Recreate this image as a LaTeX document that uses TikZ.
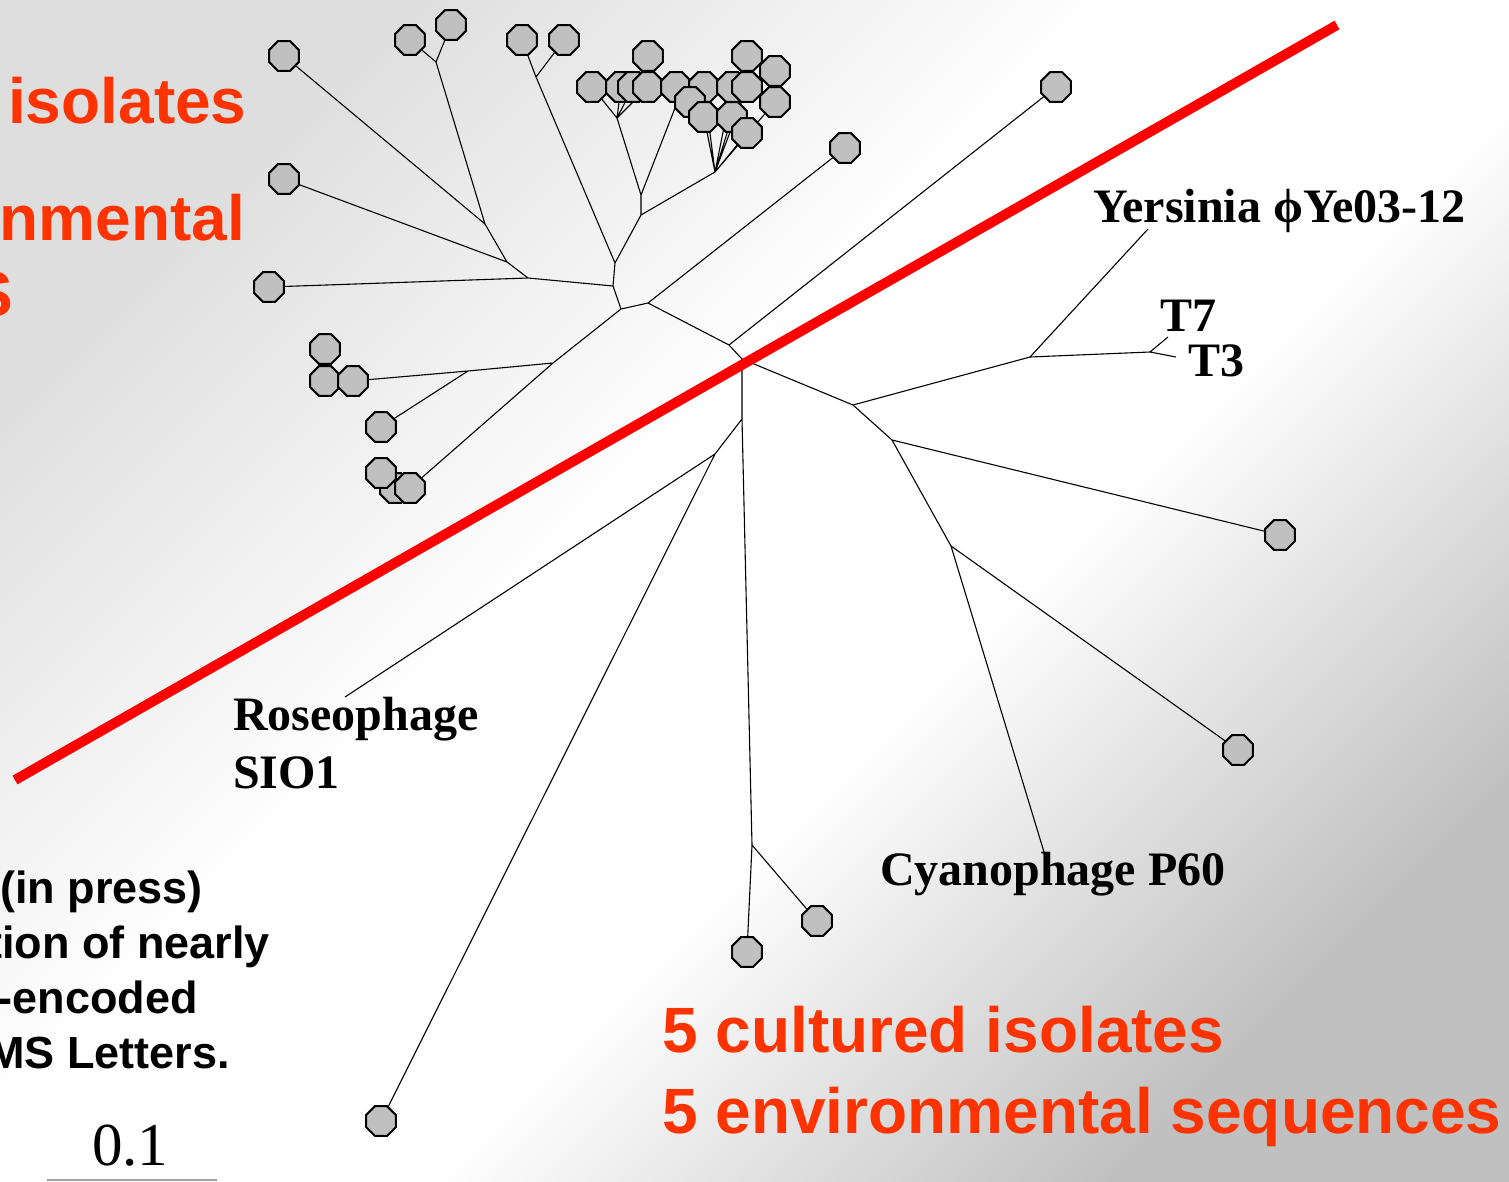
\documentclass[tikz,border=0pt]{standalone}
\usepackage{fontspec}
\setmainfont{Liberation Serif}
\setsansfont{Liberation Sans}
\usetikzlibrary{shapes.geometric}

\definecolor{leafgrey}{RGB}{192,192,192}
\definecolor{hlorange}{RGB}{255,51,0}
\definecolor{bgA}{RGB}{222,222,222}
\definecolor{bgB}{RGB}{192,192,192}
\definecolor{bargrey}{RGB}{160,160,160}

% diagonal slide background: grey corner, white middle, darker grey corner
\pgfdeclarehorizontalshading{bgdiag}{100bp}{color(0bp)=(bgA); color(25bp)=(bgA); color(44bp)=(white); color(57bp)=(white); color(75bp)=(bgB); color(100bp)=(bgB)}

\pgfdeclarelayer{bg}
\pgfdeclarelayer{leaves}
\pgfsetlayers{bg,main,leaves}

\begin{document}
\begin{tikzpicture}[x=1pt,y=-1pt,
  leafnode/.style={regular polygon, regular polygon sides=8, minimum size=32pt,
    inner sep=0pt, fill=leafgrey, draw=black, line width=2pt},
  branch/.style={line width=1.1pt, black},
  splitline/.style={red, line width=10pt},
  taxon/.style={font=\bfseries\fontsize{48}{48}\selectfont, anchor=base west, inner sep=0pt},
  hltext/.style={font=\sffamily\bfseries\fontsize{64}{64}\selectfont, text=hlorange, inner sep=0pt},
  notetext/.style={font=\sffamily\bfseries\fontsize{45}{45}\selectfont, anchor=base east, inner sep=0pt},
  scalebar/.style={line width=1.5pt, bargrey}]

\begin{pgfonlayer}{bg}
  \shade[shading=bgdiag, shading angle=-45] (0,0) rectangle (1509,1181);
\end{pgfonlayer}
\useasboundingbox (0,0) rectangle (1509,1181);

% leaves (octagons)
\begin{pgfonlayer}{leaves}
\foreach \n/\x/\y in {
  L1/284/56, L2/410/40, L3/451/25, L4/522/40, L5/564/40, L6/284/179, L7/269/287,
  C1/592/87, C2/621/87, C3/633/87, C4/648/87, C5/648/56, C6/676/87,
  C7/704/87, C8/732/87, C9/747/87, C10/747/56, C11/775/71, C12/775/102,
  C13/690/102, C14/704/117, C15/732/117, C16/747/133,
  D1/325/349, D2/325/381, D3/353/381, D4/381/427, D6/395/488, D5/381/473, D7/410/488,
  M1/845/148, M2/1056/87, R1/1280/535, R2/1238/750,
  B1/747/952, B2/817/921, B3/381/1121}
  \node[leafnode] (\n) at (\x,\y) {};
\end{pgfonlayer}

% internal branching points
\coordinate (n1) at (621,309);
\coordinate (n2) at (648,303);
\coordinate (n3) at (613,286);
\coordinate (n4) at (615,263);
\coordinate (n5) at (528,278);
\coordinate (n6) at (507,262);
\coordinate (n7) at (485,224);
\coordinate (n8) at (436,62);
\coordinate (n9) at (536,77);
\coordinate (n10) at (641,215);
\coordinate (n11) at (641,195);
\coordinate (n12) at (617,118);
\coordinate (n13) at (675,108);
\coordinate (n14) at (715,172);
\coordinate (n15) at (553,363);
\coordinate (n16) at (468,371);
\coordinate (n17) at (729,345);
\coordinate (n18) at (742,359);
\coordinate (n19) at (853,405);
\coordinate (n20) at (892,440);
\coordinate (n21) at (951,546);
\coordinate (n22) at (1030,357);
\coordinate (n23) at (1150,352);
\coordinate (n24) at (742,419);
\coordinate (n25) at (715,454);
\coordinate (n26) at (752,845);

% free ends pointing at labels
\coordinate (eyer) at (1148,229);
\coordinate (et7) at (1168,337);
\coordinate (et3) at (1176,357);
\coordinate (erose) at (345,697);
\coordinate (ecyano) at (1044,852);

% labels
\node[taxon] (yer) at (1093,222) {Yersinia ϕYe03-12};
\node[taxon] (t7) at (1160,331) {T7};
\node[taxon] (t3) at (1188,376) {T3};
\node[taxon] (rose) at (233,730) {Roseophage};
\node[taxon] (sio) at (233,788) {SIO1};
\node[taxon] (cyano) at (880,885) {Cyanophage P60};
\node[font=\fontsize{61}{61}\selectfont, anchor=base west, inner sep=0pt] (scl) at (92,1165) {0.1};
\coordinate (sb1) at (47,1180);
\coordinate (sb2) at (217,1180);
\draw[scalebar] (sb1) -- (sb2);

% side texts
\node[hltext, anchor=base west] (hl1) at (8,123) {isolates};
\node[hltext, anchor=base east] (hl2) at (245,240) {nmental};
\node[hltext, anchor=base east] (hl3) at (13,316) {S};
\node[hltext, anchor=base west] (hl4) at (662,1052) {5 cultured isolates};
\node[hltext, anchor=base west] (hl5) at (662,1133) {5 environmental sequences};
\node[notetext] (nt1) at (203,903) {(in press)};
\node[notetext] (nt2) at (270,958) {tion of nearly};
\node[notetext] (nt3) at (198,1013) {-encoded};
\node[notetext] (nt4) at (230,1068) {MS Letters.};

% tree branches
\draw[branch] (n3) -- (n1) (n1) -- (n2) (n1) -- (n15) (n15) -- (D7)
  (n15) -- (n16) (n16) -- (D3) (n16) -- (D4);
\draw[branch] (n3) -- (n5) (n5) -- (L7) (n5) -- (n6) (n6) -- (L6) (n6) -- (n7)
  (n7) -- (L1) (n7) -- (n8) (n8) -- (L2) (n8) -- (L3);
\draw[branch] (n3) -- (n4) (n4) -- (n9) (n9) -- (L4) (n9) -- (L5)
  (n4) -- (n10) (n10) -- (n11) (n11) -- (n12) (n11) -- (n13) (n10) -- (n14);
\draw[branch] (n12) -- (C1) (n12) -- (C2) (n12) -- (C3) (n12) -- (C4)
  (n13) -- (C6) (n13) -- (C13)
  (n14) -- (C14) (n14) -- (C7) (n14) -- (C15) (n14) -- (C8)
  (n14) -- (C16) (n14) -- (C9) (n14) -- (C12);
\draw[branch] (n2) -- (M1) (n2) -- (n17) (n17) -- (M2) (n17) -- (n18);
\draw[branch] (n18) -- (n19) (n19) -- (n22) (n22) -- (eyer) (n22) -- (n23)
  (n23) -- (et7) (n23) -- (et3);
\draw[branch] (n19) -- (n20) (n20) -- (R1) (n20) -- (n21) (n21) -- (R2) (n21) -- (ecyano);
\draw[branch] (n18) -- (n24) (n24) -- (n25) (n25) -- (erose) (n25) -- (B3)
  (n24) -- (n26) (n26) -- (B1) (n26) -- (B2);

% dividing line
\coordinate (s1) at (15,780);
\coordinate (s2) at (1337,25);
\draw[splitline] (s1) -- (s2);
\end{tikzpicture}
\end{document}
